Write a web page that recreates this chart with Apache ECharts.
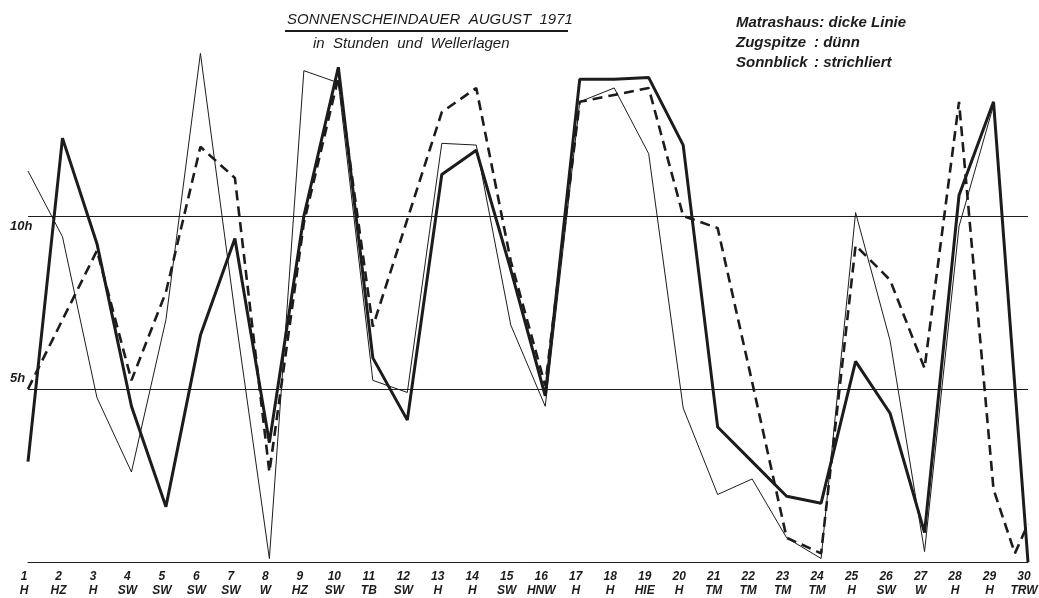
<!DOCTYPE html>
<html><head><meta charset="utf-8">
<script src="https://cdn.jsdelivr.net/npm/echarts@6/dist/echarts.min.js"></script>
<style>html,body{margin:0;padding:0;background:#fff}#c{width:1039px;height:598px}</style>
</head><body><div id="c"></div>
<script>
// ---- data ----
const days = [1,2,3,4,5,6,7,8,9,10,11,12,13,14,15,16,17,18,19,20,21,22,23,24,25,26,27,28,29,30];
const wetterlagen = ['H','HZ','H','SW','SW','SW','SW','W','HZ','SW','TB','SW','H','H','SW','HNW','H','H','HIE','H','TM','TM','TM','TM','H','SW','W','H','H','TRW'];
// Sonnenscheindauer in Stunden
const matrashaus = [2.9,12.25,9.2,4.5,1.6,6.55,9.35,3.45,10.0,14.3,5.9,4.1,11.2,11.9,8.45,4.8,13.95,13.95,14.0,12.05,3.9,2.9,1.9,1.7,5.8,4.3,0.85,10.6,13.3,0];
const zugspitze  = [11.3,9.4,4.75,2.6,7.0,14.7,7.2,0.1,14.2,13.85,5.25,4.9,12.1,12.05,6.85,4.5,13.3,13.7,11.8,4.45,1.95,2.4,0.7,0.1,10.1,6.4,0.3,9.7,13.2,0];
const sonnblick  = [5.0,7.0,9.0,5.25,7.8,12.0,11.1,2.6,9.8,14.0,6.8,9.9,13.0,13.7,8.7,5.1,13.3,13.5,13.7,10.0,9.65,5.2,0.7,0.25,9.15,8.15,5.6,13.3,2.1,1.1];
// extra vertex of the dashed line between day 29 and 30 (drawn minimum)
const sonnblickExtra = [[29.62, 0.25]];
const yTickValues = [5, 10];
const yTickLabels = ['5h', '10h'];
const titleText = 'SONNENSCHEINDAUER  AUGUST  1971';
const subtitleText = 'in  Stunden  und  Wellerlagen';
const legendNames = ['Matrashaus: dicke Linie', 'Zugspitze', 'Sonnblick'];
const legendDesc = ['', ': dünn', ': strichliert'];

// ---- chart ----
const FONT = "'Liberation Sans Narrow','Liberation Sans',sans-serif";
const INK = '#1c1c1c';
const pairs = vals => days.map((d, i) => [d, vals[i]]);
const sonnblickData = pairs(sonnblick);
sonnblickData.splice(sonnblickData.length - 1, 0, ...sonnblickExtra);

const chart = echarts.init(document.getElementById('c'), null, {renderer: 'canvas'});
chart.setOption({
  animation: false,
  backgroundColor: '#ffffff',
  grid: {left: 28, right: 11, top: 43, bottom: 36, containLabel: false, outerBoundsMode: 'none'},
  xAxis: {
    type: 'value', min: 1, max: 30, interval: 1,
    axisLine: {show: true, lineStyle: {color: INK, width: 1}},
    axisTick: {show: false},
    splitLine: {show: false},
    axisLabel: {
      margin: 8, lineHeight: 14, hideOverlap: false, padding: [0, 8, 0, 0],
      fontFamily: FONT, fontStyle: 'italic', fontWeight: 'bold', fontSize: 12, color: INK,
      formatter: v => { const i = days.indexOf(v); return i < 0 ? '' : days[i] + '\n' + wetterlagen[i]; }
    }
  },
  yAxis: {
    type: 'value', min: 0, max: 15,
    axisLine: {show: false}, axisTick: {show: false}, splitLine: {show: false},
    axisLabel: {
      customValues: yTickValues,
      align: 'left', margin: 18,
      fontFamily: FONT, fontStyle: 'italic', fontWeight: 'bold', fontSize: 13, color: INK,
      formatter: v => { const i = yTickValues.indexOf(v); const t = yTickLabels[i];
        return v === 10 ? '{lo|' + t + '}' : '{hi|' + t + '}'; },
      rich: {
        lo: {padding: [20, 0, 0, 0], fontFamily: FONT, fontStyle: 'italic', fontWeight: 'bold', fontSize: 13, color: INK},
        hi: {padding: [0, 0, 22, 0], fontFamily: FONT, fontStyle: 'italic', fontWeight: 'bold', fontSize: 13, color: INK}
      }
    }
  },
  series: [
    {
      name: 'Zugspitze', type: 'line', data: pairs(zugspitze),
      symbol: 'none', lineStyle: {color: INK, width: 1}, z: 2,
      markLine: {
        silent: true, symbol: 'none', label: {show: false},
        lineStyle: {color: INK, width: 1, type: 'solid'},
        data: yTickValues.map(v => ({yAxis: v}))
      }
    },
    {
      name: 'Sonnblick', type: 'line', data: sonnblickData,
      symbol: 'none', lineStyle: {color: INK, width: 2.6, type: [10, 6]}, z: 3
    },
    {
      name: 'Matrashaus', type: 'line', data: pairs(matrashaus),
      symbol: 'none', lineStyle: {color: INK, width: 3}, z: 4
    }
  ],
  graphic: [
    {type: 'text', left: 287, top: 12, style: {text: titleText, font: "italic 15px " + FONT, fill: INK}},
    {type: 'rect', shape: {x: 285, y: 30, width: 283, height: 2}, style: {fill: INK}},
    {type: 'text', left: 313, top: 36, style: {text: subtitleText, font: "italic 15px " + FONT, fill: INK}},
    {type: 'text', left: 736, top: 15, style: {text: legendNames[0], font: "italic bold 15px " + FONT, fill: INK}},
    {type: 'text', left: 736, top: 35, style: {text: legendNames[1], font: "italic bold 15px " + FONT, fill: INK}},
    {type: 'text', left: 814, top: 35, style: {text: legendDesc[1], font: "italic bold 15px " + FONT, fill: INK}},
    {type: 'text', left: 736, top: 55, style: {text: legendNames[2], font: "italic bold 15px " + FONT, fill: INK}},
    {type: 'text', left: 814, top: 55, style: {text: legendDesc[2], font: "italic bold 15px " + FONT, fill: INK}}
  ]
});
</script></body></html>
